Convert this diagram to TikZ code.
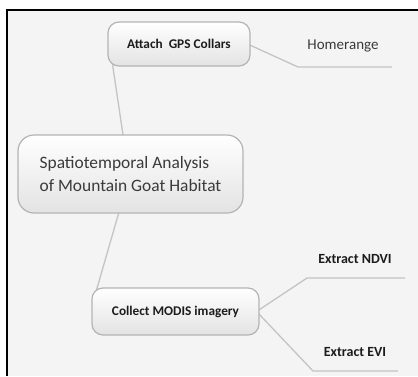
\documentclass[tikz,border=0pt]{standalone}
\usepackage{fontspec}
\setmainfont{Carlito}
\usetikzlibrary{calc,backgrounds}
\definecolor{bgc}{HTML}{F4F4F4}
\definecolor{linec}{HTML}{C4C4C4}
\definecolor{boxline}{HTML}{B4B4B4}
\definecolor{txtc}{HTML}{3A3A3A}
\definecolor{boldc}{HTML}{1C1C1C}
\tikzset{
  mapbox/.style={draw=boxline, line width=1.2pt, rounded corners=11pt, top color=white, bottom color=black!11, inner sep=0pt},
  branchtxt/.style={font=\fontsize{13.3}{15}\selectfont\bfseries, text=boldc, inner sep=0pt},
  leaftxt/.style={font=\fontsize{14}{16}\selectfont\bfseries, text=boldc, inner sep=0pt},
  link/.style={draw=linec, line width=1.3pt}
}
\begin{document}
\begin{tikzpicture}[x=1pt,y=-1pt]
\useasboundingbox (0,0) rectangle (418,376);

\node[mapbox, minimum width=142pt, minimum height=44pt, branchtxt] (attach) at (179,44) {Attach\ \ GPS Collars};
\node[mapbox, rounded corners=16pt, minimum width=225pt, minimum height=78pt, align=left, text=txtc, font=\fontsize{17.4}{23}\selectfont] (central) at (130.5,174) {Spatiotemporal Analysis\\of Mountain Goat Habitat};
\node[mapbox, minimum width=167pt, minimum height=47pt, branchtxt] (collect) at (175.5,311.5) {Collect MODIS imagery};

\node[font=\fontsize{15}{17}\selectfont, text=txtc, inner sep=0pt] (home) at (343,46) {Homerange};
\node[leaftxt] (ndvi) at (355,259) {Extract NDVI};
\node[leaftxt] (evi) at (355,352) {Extract EVI};

\coordinate (h1) at (298,67);
\coordinate (h2) at (392,67);
\coordinate (n1) at (307,278);
\coordinate (n2) at (405,278);
\coordinate (e1) at (313,371);
\coordinate (e2) at (398,371);

\begin{pgfonlayer}{background}
\fill[white] (0,0) rectangle (418,376);
\fill[bgc] (7,10) rectangle (418,376);
\draw[black, line width=2pt] (7,376) -- (7,10) -- (418,10);
\draw[link] ($(attach.south west)+(5,-3)$) -- ($(central.north west)+(106,3)$);
\draw[link] ($(central.south west)+(102,-3)$) -- ($(collect.north west)+(5,3)$);
\draw[link] ($(attach.east)+(-3,0)$) -- (h1) -- (h2);
\draw[link] ($(collect.east)+(-3,0)$) -- (n1) -- (n2);
\draw[link] ($(collect.east)+(-3,0)$) -- (e1) -- (e2);
\end{pgfonlayer}
\end{tikzpicture}
\end{document}
